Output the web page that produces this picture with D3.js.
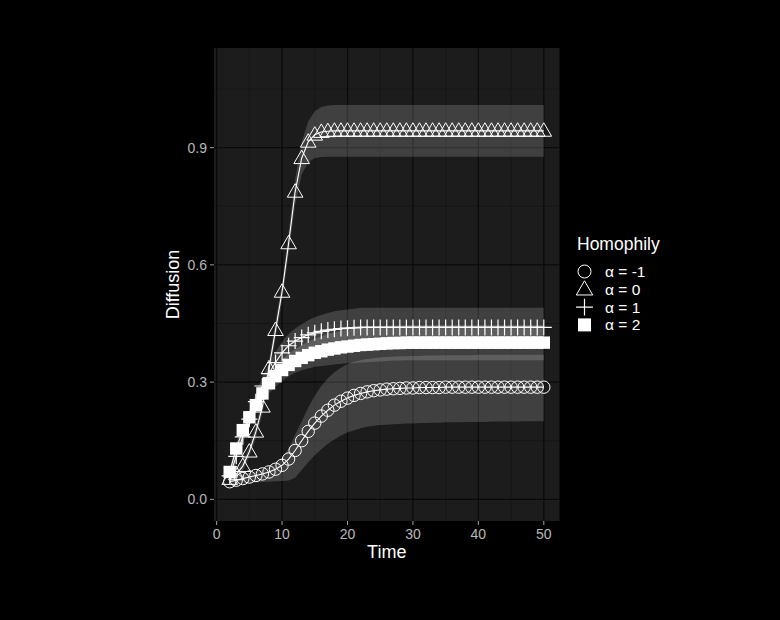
<!DOCTYPE html>
<html><head><meta charset="utf-8">
<script src="https://cdn.jsdelivr.net/npm/d3@7"></script>
<style>
html,body{margin:0;padding:0;background:#000;}
svg{display:block;font-family:"Liberation Sans",Arial,Helvetica,sans-serif;}
</style></head><body>
<svg id="chart" width="780" height="620"></svg>
<script>
// ---------------- data ----------------
const time = [2,3,4,5,6,7,8,9,10,11,12,13,14,15,16,17,18,19,20,21,22,23,24,25,26,27,28,29,30,31,32,33,34,35,36,37,38,39,40,41,42,43,44,45,46,47,48,49,50];

const labels = ["α = -1", "α = 0", "α = 1", "α = 2"];
const shapes = ["circle", "triangle", "plus", "square"];

const meanAm1 = [.045,.049,.053,.057,.061,.065,.070,.077,.087,.103,
  .125,.150,.174,.195,.213,.228,.241,.251,.259,.266,
  .271,.275,.278,.280,.282,.283,.284,.285,.285,.286,
  .286,.286,.286,.287,.287,.287,.287,.287,.287,.287,
  .287,.287,.287,.287,.287,.287,.287,.287,.287];
const lowAm1 = [.036,.038,.040,.042,.043,.044,.045,.046,.047,.048,
  .055,.075,.095,.113,.128,.142,.153,.163,.171,.177,
  .182,.186,.188,.190,.191,.192,.193,.194,.194,.195,
  .195,.196,.196,.197,.197,.197,.198,.198,.198,.198,
  .199,.199,.199,.199,.199,.200,.200,.200,.200];
const highAm1 = [.056,.060,.064,.068,.072,.076,.082,.090,.105,.130,
  .165,.200,.235,.265,.290,.310,.325,.337,.346,.352,
  .356,.359,.361,.363,.364,.365,.366,.366,.367,.367,
  .368,.368,.368,.369,.369,.369,.369,.369,.370,.370,
  .370,.370,.370,.370,.370,.370,.370,.370,.370];

const meanA0 = [.052,.064,.085,.122,.173,.237,.335,.433,.531,.655,
  .787,.873,.915,.933,.940,.942,.943,.943,.943,.943,
  .943,.943,.943,.943,.943,.943,.943,.943,.943,.943,
  .943,.943,.943,.943,.943,.943,.943,.943,.943,.943,
  .943,.943,.943,.943,.943,.943,.943,.943,.943];
const lowA0 = [.044,.054,.073,.108,.157,.219,.315,.411,.507,.628,
  .754,.831,.863,.873,.876,.877,.877,.877,.877,.877,
  .877,.877,.877,.877,.877,.877,.877,.877,.877,.877,
  .877,.877,.877,.877,.877,.877,.877,.877,.877,.877,
  .877,.877,.877,.877,.877,.877,.877,.877,.877];
const highA0 = [.060,.074,.097,.136,.189,.255,.355,.455,.555,.682,
  .820,.915,.967,.993,1.004,1.008,1.009,1.009,1.009,1.009,
  1.009,1.009,1.009,1.009,1.009,1.009,1.009,1.009,1.009,1.009,
  1.009,1.009,1.009,1.009,1.009,1.009,1.009,1.009,1.009,1.009,
  1.009,1.009,1.009,1.009,1.009,1.009,1.009,1.009,1.009];

const meanA1 = [.060,.110,.160,.205,.250,.290,.322,.350,.375,.393,
  .405,.414,.421,.426,.430,.433,.435,.437,.438,.439,
  .440,.440,.440,.440,.440,.440,.440,.440,.440,.440,
  .440,.440,.440,.440,.440,.440,.440,.440,.440,.440,
  .440,.440,.440,.440,.440,.440,.440,.440,.440];
const lowA1 = [.050,.096,.143,.185,.228,.266,.296,.323,.347,.363,
  .373,.380,.384,.386,.388,.389,.389,.390,.390,.390,
  .390,.390,.390,.390,.390,.390,.390,.390,.390,.390,
  .390,.390,.390,.390,.390,.390,.390,.390,.390,.390,
  .390,.390,.390,.390,.390,.390,.390,.390,.390];
const highA1 = [.070,.124,.177,.225,.272,.314,.348,.377,.403,.423,
  .437,.448,.458,.466,.472,.477,.481,.484,.486,.488,
  .490,.490,.490,.490,.490,.490,.490,.490,.490,.490,
  .490,.490,.490,.490,.490,.490,.490,.490,.490,.490,
  .490,.490,.490,.490,.490,.490,.490,.490,.490];

const meanA2 = [.070,.130,.177,.210,.241,.271,.297,.315,.331,.344,
  .354,.362,.369,.375,.379,.383,.386,.389,.391,.393,
  .395,.396,.397,.398,.399,.400,.400,.401,.401,.401,
  .401,.401,.401,.401,.401,.401,.401,.401,.401,.401,
  .401,.401,.401,.401,.401,.401,.401,.401,.401];
const lowA2 = [.060,.115,.159,.190,.219,.247,.271,.288,.303,.315,
  .324,.330,.335,.339,.341,.343,.345,.347,.348,.349,
  .350,.351,.352,.353,.354,.355,.355,.356,.356,.356,
  .356,.356,.356,.356,.356,.356,.356,.356,.356,.356,
  .356,.356,.356,.356,.356,.356,.356,.356,.356];
const highA2 = [.080,.145,.195,.230,.263,.295,.323,.342,.359,.373,
  .384,.394,.403,.411,.417,.423,.427,.431,.434,.437,
  .440,.441,.442,.443,.444,.445,.445,.446,.446,.446,
  .446,.446,.446,.446,.446,.446,.446,.446,.446,.446,
  .446,.446,.446,.446,.446,.446,.446,.446,.446];

const xTicks = [0,10,20,30,40,50];
const xMinor = [5,15,25,35,45];
const yTicks = [0,0.3,0.6,0.9];
const yTickLabels = ["0.0","0.3","0.6","0.9"];
const yMinor = [0.15,0.45,0.75,1.05];

// ---------------- build ----------------
const means = [meanAm1, meanA0, meanA1, meanA2];
const lows = [lowAm1, lowA0, lowA1, lowA2];
const highs = [highAm1, highA0, highA1, highA2];
const series = labels.map((lab, i) => ({
  label: lab, shape: shapes[i],
  values: time.map((t, j) => ({t, m: means[i][j], lo: lows[i][j], hi: highs[i][j]}))
}));

const svg = d3.select("#chart");
svg.append("rect").attr("width",780).attr("height",620).attr("fill","#000");

const P = {left: 214, right: 559.5, top: 48, bottom: 521};
const x = d3.scaleLinear().domain([-0.4, 52.4]).range([P.left, P.right]);
const y = d3.scaleLinear().domain([-0.0555, 1.155]).range([P.bottom, P.top]);

// panel
svg.append("rect").attr("x",P.left).attr("y",P.top)
  .attr("width",P.right-P.left).attr("height",P.bottom-P.top).attr("fill","#1c1c1c");

const grid = svg.append("g");
grid.selectAll(".vmin").data(xMinor).join("line")
  .attr("x1",d=>x(d)).attr("x2",d=>x(d)).attr("y1",P.top).attr("y2",P.bottom)
  .attr("stroke","#121212").attr("stroke-width",0.6);
grid.selectAll(".hmin").data(yMinor).join("line")
  .attr("y1",d=>y(d)).attr("y2",d=>y(d)).attr("x1",P.left).attr("x2",P.right)
  .attr("stroke","#121212").attr("stroke-width",0.6);
grid.selectAll(".vmaj").data(xTicks).join("line")
  .attr("x1",d=>x(d)).attr("x2",d=>x(d)).attr("y1",P.top).attr("y2",P.bottom)
  .attr("stroke","#0a0a0a").attr("stroke-width",1.2);
grid.selectAll(".hmaj").data(yTicks).join("line")
  .attr("y1",d=>y(d)).attr("y2",d=>y(d)).attr("x1",P.left).attr("x2",P.right)
  .attr("stroke","#0a0a0a").attr("stroke-width",1.2);

// ribbons
const area = d3.area().x(d=>x(d.t)).y0(d=>y(d.lo)).y1(d=>y(d.hi));
svg.append("g").selectAll("path").data(series).join("path")
  .attr("d", d=>area(d.values)).attr("fill","#ffffff").attr("fill-opacity",0.16);

// lines
const line = d3.line().x(d=>x(d.t)).y(d=>y(d.m));
svg.append("g").selectAll("path").data(series).join("path")
  .attr("d", d=>line(d.values)).attr("fill","none").attr("stroke","#ffffff").attr("stroke-width",1.1);

// markers
function drawMarker(g, shape, cx, cy, scale){
  const s = scale || 1;
  if (shape === "circle") {
    g.append("circle").attr("cx",cx).attr("cy",cy).attr("r",6.2*s)
      .attr("fill","none").attr("stroke","#ffffff").attr("stroke-width",1);
  } else if (shape === "triangle") {
    const h = 13.5*s, w = 15.6*s;
    g.append("path").attr("d",`M${cx},${cy-h*0.6}L${cx+w/2},${cy+h*0.4}L${cx-w/2},${cy+h*0.4}Z`)
      .attr("fill","none").attr("stroke","#ffffff").attr("stroke-width",1);
  } else if (shape === "plus") {
    const a = 8*s;
    g.append("path").attr("d",`M${cx-a},${cy}H${cx+a}M${cx},${cy-a}V${cy+a}`)
      .attr("fill","none").attr("stroke","#ffffff").attr("stroke-width",1.2);
  } else {
    const a = 6.2*s;
    g.append("rect").attr("x",cx-a).attr("y",cy-a).attr("width",2*a).attr("height",2*a)
      .attr("fill","#ffffff");
  }
}
const pts = svg.append("g");
series.forEach(s => {
  const g = pts.append("g");
  s.values.forEach(d => drawMarker(g, s.shape, x(d.t), y(d.m)));
});

// axes
const ax = svg.append("g");
ax.selectAll(".xt").data(xTicks).join("line")
  .attr("x1",d=>x(d)).attr("x2",d=>x(d)).attr("y1",P.bottom).attr("y2",P.bottom+4)
  .attr("stroke","#a0a0a0").attr("stroke-width",1);
ax.selectAll(".xl").data(xTicks).join("text")
  .attr("x",d=>x(d)).attr("y",P.bottom+18).attr("text-anchor","middle")
  .attr("fill","#b8b8b8").attr("font-size",14).text(d=>d);
ax.selectAll(".yt").data(yTicks).join("line")
  .attr("y1",d=>y(d)).attr("y2",d=>y(d)).attr("x1",P.left-4).attr("x2",P.left)
  .attr("stroke","#a0a0a0").attr("stroke-width",1);
ax.selectAll(".yl").data(yTicks).join("text")
  .attr("x",P.left-7).attr("y",d=>y(d)).attr("dy","0.35em").attr("text-anchor","end")
  .attr("fill","#b8b8b8").attr("font-size",14).text((d,i)=>yTickLabels[i]);

svg.append("text").attr("x",(P.left+P.right)/2).attr("y",558).attr("text-anchor","middle")
  .attr("fill","#ffffff").attr("font-size",18).text("Time");
svg.append("text").attr("transform",`translate(179,${(P.top+P.bottom)/2}) rotate(-90)`)
  .attr("text-anchor","middle").attr("fill","#ffffff").attr("font-size",18).text("Diffusion");

// legend
const lg = svg.append("g");
lg.append("text").attr("x",577).attr("y",250).attr("fill","#ffffff").attr("font-size",17.5).text("Homophily");
series.forEach((s, i) => {
  const cy = 271.5 + i*17.8;
  drawMarker(lg, s.shape, 584.5, cy, 1.05);
  lg.append("text").attr("x",605).attr("y",cy).attr("dy","0.36em")
    .attr("fill","#ffffff").attr("font-size",15.5).text(s.label);
});
</script>
</body></html>
